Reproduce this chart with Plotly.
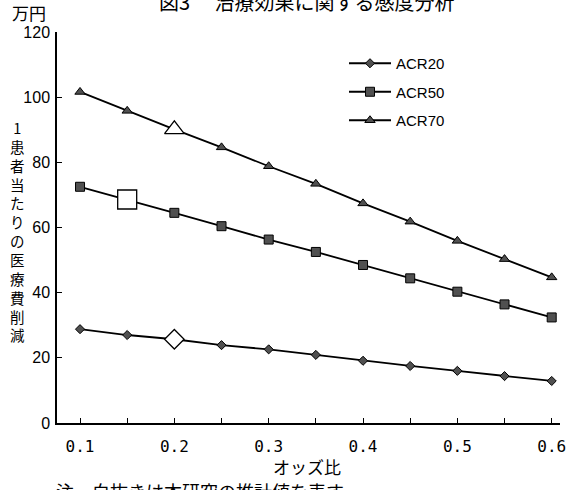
import plotly.graph_objects as go

# ---- data ----
odds = [0.1, 0.15, 0.2, 0.25, 0.3, 0.35, 0.4, 0.45, 0.5, 0.55, 0.6]
acr20 = [28.8, 27.0, 25.7, 23.9, 22.6, 20.9, 19.1, 17.5, 16.0, 14.4, 12.9]
acr50 = [72.5, 68.6, 64.5, 60.4, 56.3, 52.5, 48.5, 44.4, 40.3, 36.4, 32.4]
acr70 = [101.6, 95.8, 90.1, 84.6, 78.8, 73.4, 67.4, 61.8, 55.9, 50.3, 44.7]
series_names = ["ACR20", "ACR50", "ACR70"]
study_index = [2, 1, 2]  # hollow = this study's estimate

x_ticks = [0.1, 0.2, 0.3, 0.4, 0.5, 0.6]
x_tick_labels = ["0.1", "0.2", "0.3", "0.4", "0.5", "0.6"]
y_ticks = [0, 20, 40, 60, 80, 100, 120]

title_text = "図3　 治療効果に関する感度分析"
unit_text = "万円"
ytitle_text = "1患者当たりの医療費削減"
xtitle_text = "オッズ比"
note_text = "注　白抜きは本研究の推計値を表す"

# ---- layout geometry ----
W, H = 574, 490
ML, MR, MT, MB = 57, 14, 32, 67
PW, PH = W - ML - MR, H - MT - MB


def px_x(p):
    return (p - ML) / PW


def px_y(p):
    return (H - MB - p) / PH


JP = "Noto Sans CJK JP"
fill = "#505050"
symbols = ["diamond", "square", "triangle-up"]
sizes = [7, 9, 9]
big_sizes = [15, 19, 17]
values = [acr20, acr50, acr70]

fig = go.Figure()
for name, vals, sym, sz in zip(series_names, values, symbols, sizes):
    fig.add_trace(go.Scatter(
        x=odds, y=vals, mode="lines+markers", name=name,
        line=dict(color="black", width=1.8),
        marker=dict(symbol=sym, size=sz, color=fill,
                    line=dict(color="black", width=1)),
        legendgroup=name,
    ))
for name, vals, sym, bs, idx in zip(series_names, values, symbols, big_sizes, study_index):
    fig.add_trace(go.Scatter(
        x=[odds[idx]], y=[vals[idx]], mode="markers", showlegend=False,
        marker=dict(symbol=sym, size=bs, color="white",
                    line=dict(color="black", width=1.3)),
    ))

fig.update_layout(
    width=W, height=H,
    margin=dict(l=ML, r=MR, t=MT, b=MB, autoexpand=False),
    paper_bgcolor="white", plot_bgcolor="white",
    font=dict(family="Liberation Sans", color="black", size=15),
    legend=dict(
        x=px_x(344), y=px_y(47), xanchor="left", yanchor="top",
        bgcolor="rgba(0,0,0,0)", itemwidth=42, tracegroupgap=6,
        font=dict(family="Liberation Sans", size=15),
    ),
    xaxis=dict(
        range=[0.0756, 0.6088], tickmode="array", tickvals=x_ticks,
        ticktext=x_tick_labels, ticks="inside", ticklen=5,
        tickcolor="black", showline=True, linecolor="black", linewidth=1.5,
        showgrid=False, zeroline=False, automargin=False,
        tickfont=dict(family="DejaVu Sans Mono", size=16),
        minor=dict(dtick=0.05, tick0=0.1, ticks="inside", ticklen=5, tickcolor="black"),
        ticklabelstandoff=8,
    ),
    yaxis=dict(
        range=[0, 120], tickmode="array", tickvals=y_ticks,
        ticks="inside", ticklen=5, tickcolor="black",
        showline=True, linecolor="black", linewidth=1.5,
        showgrid=False, zeroline=False, automargin=False,
        tickfont=dict(family="Liberation Sans", size=16),
        ticklabelstandoff=2,
    ),
)

ann = []
ann.append(dict(text=title_text, x=px_x(307), y=px_y(1), xref="paper", yref="paper",
                xanchor="center", yanchor="middle", showarrow=False,
                font=dict(family=JP, size=20)))
ann.append(dict(text=unit_text, x=px_x(29), y=px_y(12), xref="paper", yref="paper",
                xanchor="center", yanchor="middle", showarrow=False,
                font=dict(family=JP, size=17)))
ann.append(dict(text="<br>".join(ytitle_text), x=px_x(17), y=px_y(231), xref="paper", yref="paper",
                xanchor="center", yanchor="middle", showarrow=False,
                font=dict(family=JP, size=14.5)))
ann.append(dict(text=xtitle_text, x=px_x(307), y=px_y(466), xref="paper", yref="paper",
                xanchor="center", yanchor="middle", showarrow=False,
                font=dict(family=JP, size=17)))
ann.append(dict(text=note_text, x=px_x(54), y=px_y(491), xref="paper", yref="paper",
                xanchor="left", yanchor="middle", showarrow=False,
                font=dict(family=JP, size=18)))
fig.update_layout(annotations=ann)

fig.write_html(
    "out.html",
    config={"displayModeBar": False},
    post_script="document.body.style.margin='0';document.body.style.overflow='hidden';",
)
